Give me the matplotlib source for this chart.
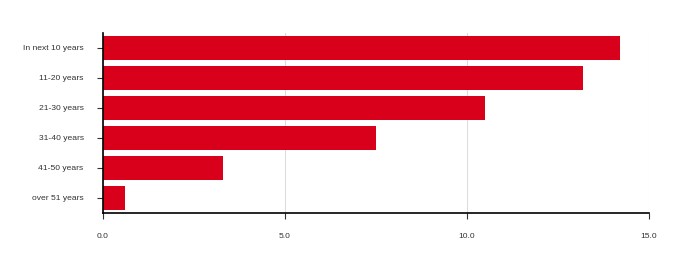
import matplotlib
matplotlib.use("Agg")
import matplotlib.pyplot as plt

categories = ["In next 10 years", "11-20 years", "21-30 years", "31-40 years", "41-50 years", "over 51 years"]
values = [14.2, 13.2, 10.5, 7.5, 3.3, 0.6]
xticks = [0.0, 5.0, 10.0, 15.0]
xticklabels = ["0.0", "5.0", "10.0", "15.0"]

plt.rcParams['font.family'] = ['Liberation Sans', 'DejaVu Sans']
fig = plt.figure(figsize=(6.83, 2.66), dpi=100)
ax = fig.add_axes([103/683, 1-213/266, (649-103)/683, (213-33)/266])

y = list(range(len(categories)))
ax.barh(y, values, height=0.8, color='#d9001b', zorder=2)
ax.set_ylim(len(categories)-0.5, -0.5)
ax.set_xlim(0, 15)
ax.set_yticks(y)
ax.set_yticklabels(categories, fontsize=6.1, color='#333333')
ax.set_xticks(xticks)
ax.set_xticklabels(xticklabels, fontsize=6.1, color='#333333')
ax.grid(axis='x', color='#dddddd', linewidth=0.8, zorder=0)
for s in ['top', 'right']:
    ax.spines[s].set_visible(False)
ax.spines['left'].set_color('black')
ax.spines['bottom'].set_color('black')
ax.spines['left'].set_linewidth(1.2)
ax.spines['bottom'].set_linewidth(1.2)
ax.tick_params(axis='y', length=4, width=0.8, pad=10, color='#333333')
ax.tick_params(axis='x', length=4, width=0.8, pad=10.5, color='#333333')
fig.savefig('out.png', dpi=100)
